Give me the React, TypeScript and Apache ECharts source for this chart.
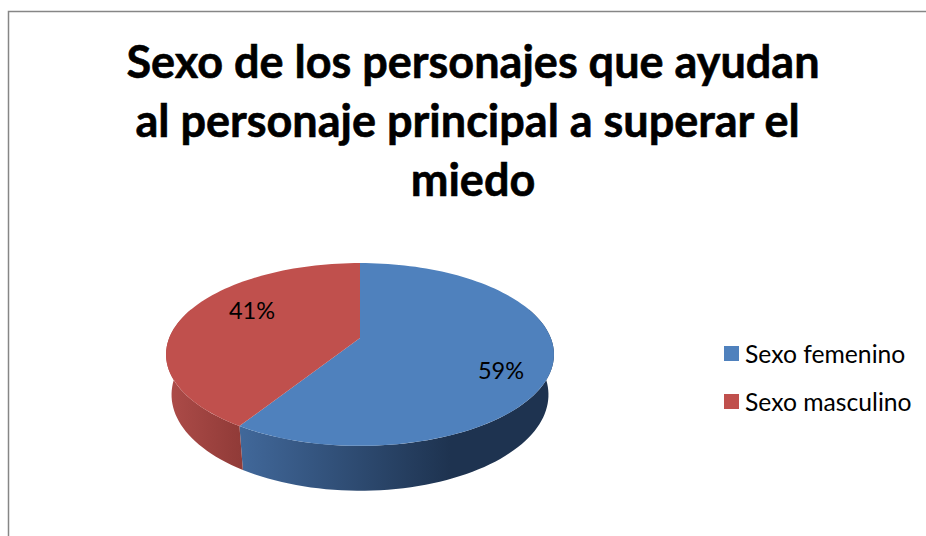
import React, { useEffect, useRef } from "react";
import * as echarts from "echarts";

const categories = ["Sexo femenino", "Sexo masculino"];
const percentages = [59, 41];
const titleLines = ["Sexo de los personajes que ayudan", "al personaje principal a superar el ", "miedo"];

const colors = ["#4f81bd", "#c0504d"];
const sideStops = [
  ["#41689a", "#1e3350"],
  ["#ac4b48", "#8f3a37"],
];
const sideRange = [
  [240, 450],
  [170, 245],
];
const labelAnchor = [
  { x: 501, y: 369.5 },
  { x: 252, y: 309.5 },
];

// Perspective projection of the unit circle on to the pie's top face
const CX = 360;
const R = 190.8;
const P = 0.18;
const A = 27.6;
const B = 338;
function topPoint(deg: number, f = 1): [number, number] {
  const t = (deg * Math.PI) / 180;
  const u = Math.sin(t) * f;
  const v = -Math.cos(t) * f;
  const w = 1 - P * v;
  return [CX + (R * u) / w, (A * v + B) / w];
}
function basePoint(deg: number): [number, number] {
  const [x, y] = topPoint(deg);
  return [CX + 0.9716 * (x - CX), 395 + 1.05 * (y - 354.7)];
}
function arc(fn: (d: number) => [number, number], a: number, b: number) {
  const pts: [number, number][] = [];
  const n = Math.max(2, Math.ceil(Math.abs(b - a) / 2));
  for (let i = 0; i <= n; i++) pts.push(fn(a + ((b - a) * i) / n));
  return pts;
}

export default function App() {
  const ref = useRef<HTMLDivElement>(null);
  useEffect(() => {
    const chart = echarts.init(ref.current!, undefined, { renderer: "svg" });
    const total = percentages.reduce((s, v) => s + v, 0);
    let running = 0;
    const series = categories.map((name, i) => {
      const start = running;
      running += percentages[i];
      return {
        type: "custom",
        name,
        coordinateSystem: "none",
        itemStyle: { color: colors[i] },
        silent: true,
        data: [[start, percentages[i]]],
        renderItem: (_: any, api: any) => {
          const a0 = (api.value(0) / total) * 360;
          const a1 = a0 + (api.value(1) / total) * 360;
          // only the part of the rim facing the viewer is visible
          const sa = Math.max(a0, 70);
          const sb = Math.min(a1, 290);
          const [gx0, gx1] = sideRange[i];
          return {
            type: "group",
            children: [
              {
                type: "polygon",
                z2: 1,
                shape: { points: [...arc(topPoint, sa, sb), ...arc(basePoint, sb, sa)] },
                style: {
                  fill: new echarts.graphic.LinearGradient(
                    gx0, 0, gx1, 0,
                    [
                      { offset: 0, color: sideStops[i][0] },
                      { offset: 1, color: sideStops[i][1] },
                    ],
                    true
                  ),
                },
              },
              {
                type: "polygon",
                z2: 2,
                shape: { points: [topPoint(0, 0), ...arc(topPoint, a0, a1)] },
                style: { fill: colors[i] },
              },
              {
                type: "text",
                z2: 3,
                x: labelAnchor[i].x,
                y: labelAnchor[i].y,
                style: {
                  text: `${api.value(1)}%`,
                  fill: "#000",
                  font: "23.5px Lato",
                  align: "center",
                  verticalAlign: "middle",
                },
              },
            ],
          };
        },
      };
    });
    chart.setOption({
      animation: false,
      backgroundColor: "#fff",
      title: {
        text: titleLines.join("\n"),
        left: 468,
        top: 26,
        textAlign: "center",
        textStyle: {
          fontFamily: "Lato",
          fontWeight: "bold",
          fontSize: 45,
          lineHeight: 59,
          color: "#000",
          textBorderColor: "#000",
          textBorderWidth: 0.6,
        },
      },
      legend: {
        orient: "vertical",
        left: 719,
        top: 334.5,
        icon: "rect",
        itemWidth: 15,
        itemHeight: 15,
        itemGap: 20,
        textStyle: { fontFamily: "Lato", fontSize: 24.7, lineHeight: 24, color: "#000", padding: [0, 0, 4, 1] },
        data: categories,
        selectedMode: false,
      },
      graphic: [
        {
          type: "rect",
          shape: { x: 8.5, y: 11.5, width: 1000, height: 600 },
          style: { fill: "none", stroke: "#868686", lineWidth: 1.5 },
          silent: true,
        },
      ],
      series,
    } as any);
    return () => chart.dispose();
  }, []);
  return <div ref={ref} style={{ position: "absolute", left: 0, top: 0, width: 926, height: 536 }} />;
}
